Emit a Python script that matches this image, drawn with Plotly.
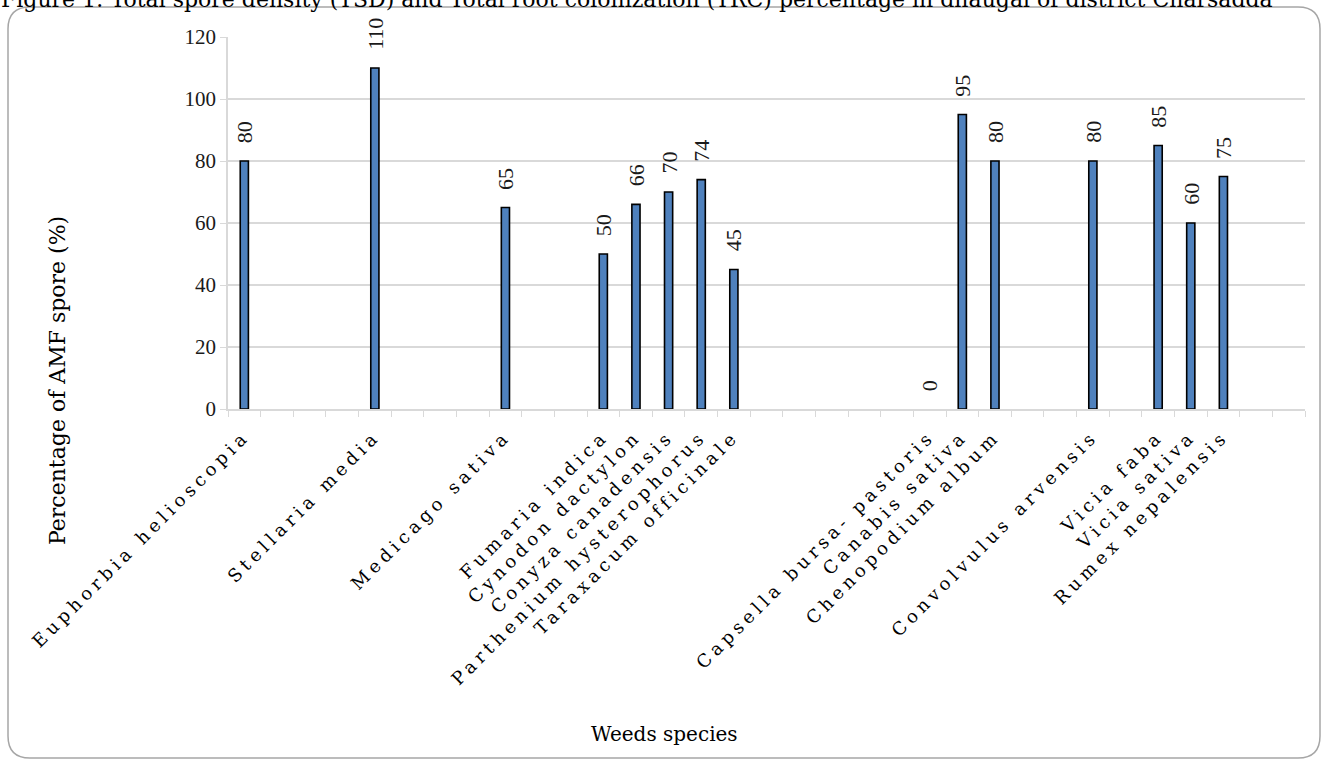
import plotly.graph_objects as go

# Weed species in plotting order; empty strings are spacer slots on the axis
species = [
    "Euphorbia helioscopia", "", "", "",
    "Stellaria media", "", "", "",
    "Medicago sativa", "", "",
    "Fumaria indica", "Cynodon dactylon", "Conyza canadensis",
    "Parthenium hysterophorus", "Taraxacum officinale", "", "", "", "", "",
    "Capsella bursa- pastoris", "Canabis sativa", "Chenopodium album", "", "",
    "Convolvulus arvensis", "",
    "Vicia faba", "Vicia sativa", "Rumex nepalensis", "", "",
]
# Percentage of AMF spore (%) per slot; None for spacer slots
spore_pct = [
    80, None, None, None,
    110, None, None, None,
    65, None, None,
    50, 66, 70,
    74, 45, None, None, None, None, None,
    0, 95, 80, None, None,
    80, None,
    85, 60, 75, None, None,
]
y_ticks = [0, 20, 40, 60, 80, 100, 120]

caption = ("Figure 1: Total spore density (TSD) and Total root colonization (TRC) "
           "percentage in dhaugal of district Charsadda")

# unique category keys (blank spacers get distinct whitespace keys)
cats = [name if name else " " * (i + 1) for i, name in enumerate(species)]
# tick labels set with wide letter tracking
tick_text = [f"<span style='letter-spacing:4.5px'>{name}</span>" if name else ""
             for name in species]

SERIF_T = "Liberation Serif"
SERIF_C = "DejaVu Serif"

# no outline on zero-height bars
outline_w = [0 if v == 0 else 1.6 for v in spore_pct]

fig = go.Figure()
fig.add_trace(go.Bar(
    x=cats,
    y=spore_pct,
    marker=dict(color="#4f81bd", line=dict(color="#000000", width=outline_w)),
    width=0.25,
    hoverinfo="skip",
))

# rotated value labels above each bar
for c, v in zip(cats, spore_pct):
    if v is None:
        continue
    fig.add_annotation(
        x=c, y=v, xref="x", yref="y",
        text=str(v), textangle=-90, showarrow=False,
        xanchor="center", yanchor="bottom", yshift=16,
        font=dict(family=SERIF_T, size=22, color="#1a1a1a"),
    )

L, R, T, B = 228, 19, 37, 352
W, H = 1324, 761
pw, ph = W - L - R, H - T - B

def px_to_paper_x(px):
    return (px - L) / pw

def px_to_paper_y(py):
    return (H - B - py) / ph

# caption above the chart frame
fig.add_annotation(
    x=px_to_paper_x(-1), y=px_to_paper_y(14), xref="paper", yref="paper",
    xanchor="left", yanchor="bottom", showarrow=False,
    text=caption, font=dict(family=SERIF_C, size=22, color="#000000"),
)

# axis titles
fig.add_annotation(
    x=px_to_paper_x(57), y=px_to_paper_y(381), xref="paper", yref="paper",
    text="Percentage of AMF spore (%)", textangle=-90, showarrow=False,
    xanchor="center", yanchor="middle",
    font=dict(family=SERIF_C, size=22, color="#000000"),
)
fig.add_annotation(
    x=px_to_paper_x(664), y=px_to_paper_y(734), xref="paper", yref="paper",
    text="Weeds species", showarrow=False,
    xanchor="center", yanchor="middle",
    font=dict(family=SERIF_C, size=20, color="#000000"),
)

# rounded chart frame, drawn in pixel offsets from the plot origin
x0, y0, x1, y1, r = 8 - L, -(7 - (H - B)), 1320 - L, -(758 - (H - B)), 22
frame = (
    f"M {x0 + r},{y0} L {x1 - r},{y0} Q {x1},{y0} {x1},{y0 - r} "
    f"L {x1},{y1 + r} Q {x1},{y1} {x1 - r},{y1} "
    f"L {x0 + r},{y1} Q {x0},{y1} {x0},{y1 + r} "
    f"L {x0},{y0 - r} Q {x0},{y0} {x0 + r},{y0} Z"
)
fig.add_shape(
    type="path", path=frame, xref="paper", yref="paper",
    xsizemode="pixel", ysizemode="pixel", xanchor=0, yanchor=0,
    line=dict(color="#a6a6a6", width=1.5), fillcolor="rgba(0,0,0,0)",
    layer="below",
)

fig.update_layout(
    width=W, height=H,
    margin=dict(l=L, r=R, t=T, b=B, autoexpand=False),
    paper_bgcolor="#ffffff", plot_bgcolor="#ffffff",
    showlegend=False,
    bargap=0.75,
    xaxis=dict(
        type="category", categoryorder="array", categoryarray=cats,
        tickvals=cats, ticktext=tick_text,
        tickson="boundaries", ticks="outside", ticklen=6, tickcolor="#d9d9d9",
        tickangle=-45, ticklabelstandoff=8,
        showgrid=False, showline=True, linecolor="#d9d9d9",
        linewidth=1.5, tickfont=dict(family=SERIF_C, size=18, color="#000000"),
        range=[-0.5, len(cats) - 0.5], fixedrange=True,
    ),
    yaxis=dict(
        range=[0, 120], tickvals=y_ticks, showgrid=True, gridcolor="#d9d9d9",
        gridwidth=1.5, showline=True, linecolor="#d9d9d9", linewidth=1.5,
        ticks="outside", ticklen=6, tickcolor="#d9d9d9",
        tickfont=dict(family=SERIF_T, size=21, color="#1a1a1a"),
        zeroline=False, fixedrange=True,
    ),
)

fig.write_html("out.html")
